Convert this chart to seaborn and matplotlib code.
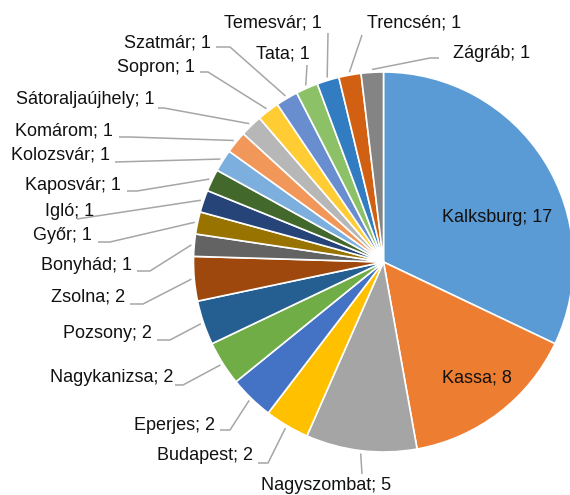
import numpy as np
import matplotlib
matplotlib.use('Agg')
import matplotlib.pyplot as plt
import seaborn as sns

sns.set_theme(style="white")
plt.rcParams['font.family'] = ['Liberation Sans', 'DejaVu Sans']

# data
towns = ['Kalksburg', 'Kassa', 'Nagyszombat', 'Budapest', 'Eperjes', 'Nagykanizsa',
         'Pozsony', 'Zsolna', 'Bonyhád', 'Győr', 'Igló', 'Kaposvár', 'Kolozsvár',
         'Komárom', 'Sátoraljaújhely', 'Sopron', 'Szatmár', 'Tata', 'Temesvár',
         'Trencsén', 'Zágráb']
counts = [17, 8, 5, 2, 2, 2, 2, 2, 1, 1, 1, 1, 1, 1, 1, 1, 1, 1, 1, 1, 1]

# Excel office palette
COLORS = sns.color_palette(['#5b9bd5', '#ed7d31', '#a5a5a5', '#ffc000', '#4472c4',
                            '#70ad47', '#255e91', '#9e480e', '#636363', '#997300',
                            '#264478', '#43682b', '#7cafdd', '#f1975a', '#b7b7b7',
                            '#ffcd33', '#698ed0', '#8cc168', '#327dc2', '#d26012',
                            '#848484'])

# label layout in pixel coords: text x, text y, alignment, leader start points
LAYOUT = {
    'Kalksburg': (497, 218, 'center', None),
    'Kassa': (477, 378, 'center', None),
    'Nagyszombat': (326, 485, 'center', [(362, 474)]),
    'Budapest': (253, 456, 'right', [(258, 463), (268, 463)]),
    'Eperjes': (215, 425, 'right', [(220, 430), (230, 430)]),
    'Nagykanizsa': (173, 378, 'right', [(175, 385), (183, 385)]),
    'Pozsony': (152, 333, 'right', [(157, 340), (170, 340)]),
    'Zsolna': (125, 297, 'right', [(130, 304), (143, 304)]),
    'Bonyhád': (132, 265, 'right', [(137, 271), (150, 271)]),
    'Győr': (92, 236, 'right', [(98, 242), (110, 242)]),
    'Igló': (94, 212, 'right', [(77, 219)]),
    'Kaposvár': (121, 185, 'right', [(127, 191), (137, 191)]),
    'Kolozsvár': (110, 155, 'right', [(115, 162)]),
    'Komárom': (113, 131, 'right', [(119, 137), (130, 137)]),
    'Sátoraljaújhely': (155, 99, 'right', [(158, 108), (164, 108)]),
    'Sopron': (195, 68, 'right', [(200, 72), (208, 72)]),
    'Szatmár': (211, 43, 'right', [(216, 47), (230, 47)]),
    'Tata': (310, 54, 'right', [(307, 65)]),
    'Temesvár': (322, 23, 'right', [(328, 33)]),
    'Trencsén': (367, 23, 'left', [(362, 35)]),
    'Zágráb': (453, 53, 'left', [(439, 58), (430, 58)]),
}

W, H = 570, 495
CENTER = (383.5, 262)
RADIUS = 190

fig = plt.figure(figsize=(W / 100, H / 100), dpi=100)
ax = fig.add_axes([0, 0, 1, 1])
wedges, _ = ax.pie(counts, colors=COLORS, center=CENTER, radius=RADIUS,
                   startangle=-90, counterclock=True,
                   wedgeprops=dict(edgecolor='white', linewidth=1.2))
ax.set_xlim(0, W)
ax.set_ylim(H, 0)
ax.set_aspect('equal')
ax.axis('off')

for w, name, val in zip(wedges, towns, counts):
    tx, ty, ha, pts = LAYOUT[name]
    ax.text(tx, ty, f'{name}; {val}', ha=ha, va='center', fontsize=13, color='#111111')
    if pts:
        mid = np.deg2rad((w.theta1 + w.theta2) / 2)
        ex = w.center[0] + 1.015 * w.r * np.cos(mid)
        ey = w.center[1] + 1.015 * w.r * np.sin(mid)
        xs = [p[0] for p in pts] + [ex]
        ys = [p[1] for p in pts] + [ey]
        ax.plot(xs, ys, color='#a6a6a6', lw=1.1, solid_capstyle='butt')

fig.savefig('out.png', dpi=100)
